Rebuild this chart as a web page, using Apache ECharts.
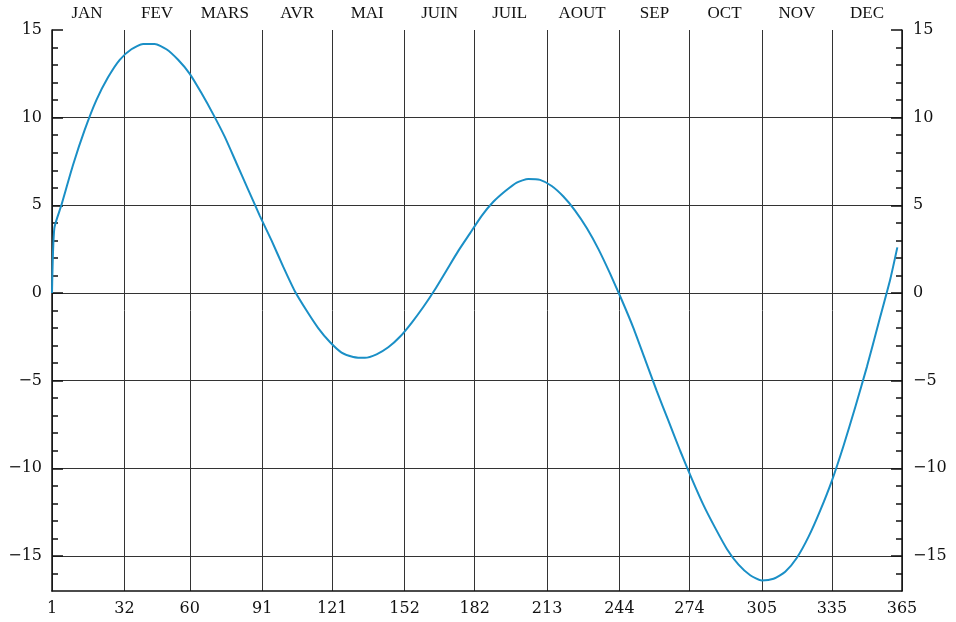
<!DOCTYPE html>
<html><head><meta charset="utf-8">
<script src="https://cdn.jsdelivr.net/npm/echarts@6/dist/echarts.min.js"></script>
<style>html,body{margin:0;padding:0;background:#fff}#c{width:956px;height:622px}</style>
</head><body><div id="c"></div>
<script>
const days = [1,2,5,10,15,20,25,30,35,40,45,50,55,60,65,70,75,80,85,90,95,100,105,110,115,120,125,130,135,140,145,150,155,160,165,170,175,180,185,190,195,200,205,210,215,220,225,230,235,240,245,250,255,260,265,270,275,280,285,290,295,300,305,310,315,320,325,330,335,340,345,350,355,360,363];
const values = [0,3.7,5.0,7.3,9.3,11.0,12.3,13.3,13.9,14.2,14.2,13.9,13.3,12.5,11.4,10.2,8.9,7.4,5.9,4.4,3.0,1.5,0.1,-1.0,-2.0,-2.8,-3.4,-3.65,-3.7,-3.5,-3.1,-2.5,-1.7,-0.8,0.2,1.3,2.4,3.4,4.4,5.2,5.8,6.3,6.5,6.45,6.1,5.5,4.7,3.7,2.5,1.1,-0.4,-2.0,-3.8,-5.6,-7.3,-9.0,-10.6,-12.1,-13.4,-14.6,-15.5,-16.1,-16.4,-16.3,-15.9,-15.1,-13.9,-12.4,-10.7,-8.7,-6.5,-4.2,-1.7,0.8,2.6];
const dayTicks = [1,32,60,91,121,152,182,213,244,274,305,335,365];
const monthNames = ['JAN','FEV','MARS','AVR','MAI','JUIN','JUIL','AOUT','SEP','OCT','NOV','DEC'];
const monthMids = [16,46,75,106,136,167,197,228,259,289,320,350];
const yMajor = [-15,-10,-5,0,5,10,15];
const yGrid = [-15,-10,-5,0,5,10];

const numFont = {fontFamily:'DejaVu Serif', fontSize:16, color:'#111'};
const fmtY = v => (v % 5 === 0) ? (v < 0 ? '\u2212' + Math.abs(v) : String(v)) : '';
const yBase = {type:'value', min:-17, max:15};

const chart = echarts.init(document.getElementById('c'), null, {renderer:'canvas'});
chart.setOption({
  animation:false,
  grid:{left:52, right:54, top:30, bottom:31, containLabel:false},
  xAxis:[
    {type:'value', min:1, max:365, position:'bottom',
     axisLine:{show:true, onZero:false, lineStyle:{color:'#111', width:1.5}},
     axisTick:{show:false, customValues:dayTicks},
     axisLabel:Object.assign({customValues:dayTicks, margin:10}, numFont),
     splitLine:{show:true, lineStyle:{color:'#333', width:1}}},
    {type:'value', min:1, max:365, position:'top',
     axisLine:{show:false, onZero:false}, axisTick:{show:false},
     axisLabel:{customValues:monthMids, margin:8, fontFamily:'Liberation Serif', fontSize:17, color:'#111',
       formatter: v => monthNames[monthMids.indexOf(v)] || ''},
     splitLine:{show:false}}
  ],
  yAxis:[
    Object.assign({}, yBase, {position:'left', interval:1,
      axisLine:{show:true, onZero:false, lineStyle:{color:'#111', width:1.5}},
      axisTick:{show:true, inside:true, length:6, lineStyle:{color:'#111', width:1.5}},
      axisLabel:Object.assign({formatter:fmtY, margin:10, showMinLabel:false, showMaxLabel:true}, numFont),
      splitLine:{show:false}}),
    Object.assign({}, yBase, {position:'right', interval:1,
      axisLine:{show:true, onZero:false, lineStyle:{color:'#111', width:1.5}},
      axisTick:{show:true, inside:true, length:6, lineStyle:{color:'#111', width:1.5}},
      axisLabel:Object.assign({formatter:fmtY, margin:11, showMinLabel:false, showMaxLabel:true}, numFont),
      splitLine:{show:false}}),
    Object.assign({}, yBase, {position:'left',
      axisLine:{show:false, onZero:false},
      axisTick:{show:true, inside:true, length:11, customValues:yMajor, lineStyle:{color:'#111', width:1.5}},
      axisLabel:{show:false}, splitLine:{show:false}}),
    Object.assign({}, yBase, {position:'right',
      axisLine:{show:false, onZero:false},
      axisTick:{show:true, inside:true, length:11, customValues:yMajor, lineStyle:{color:'#111', width:1.5}},
      axisLabel:{show:false}, splitLine:{show:false}}),
    Object.assign({}, yBase, {position:'left',
      axisLine:{show:false, onZero:false},
      axisTick:{show:false, customValues:yGrid},
      axisLabel:{show:false},
      splitLine:{show:true, lineStyle:{color:'#333', width:1}}})
  ],
  series:[{
    type:'line', xAxisIndex:0, yAxisIndex:0,
    data: days.map((d,i)=>[d, values[i]]),
    showSymbol:false, smooth:0.2, z:5,
    lineStyle:{color:'#1a8fc6', width:2}
  }]
});
</script></body></html>
